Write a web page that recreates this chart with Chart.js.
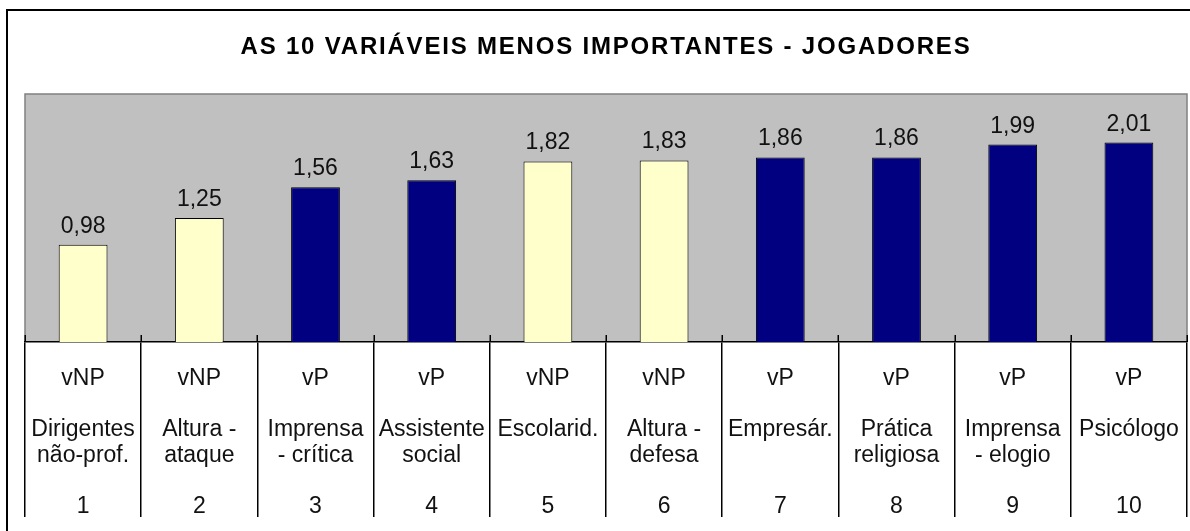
<!DOCTYPE html>
<html>
<head>
<meta charset="utf-8">
<script src="https://cdn.jsdelivr.net/npm/chart.js@4.4.1/dist/chart.umd.min.js"></script>
<style>
html, body { margin: 0; padding: 0; background: #fff; overflow: hidden; }
canvas { display: block; }
</style>
</head>
<body>
<canvas id="c" width="1190" height="531"></canvas>
<script>
// ---- Data ----
const titleText = 'AS 10 VARIÁVEIS MENOS IMPORTANTES - JOGADORES';
const groups = ['vNP', 'vNP', 'vP', 'vP', 'vNP', 'vNP', 'vP', 'vP', 'vP', 'vP'];
const categoryLines = [
  ['Dirigentes', 'não-prof.'],
  ['Altura -', 'ataque'],
  ['Imprensa', '- crítica'],
  ['Assistente', 'social'],
  ['Escolarid.', ''],
  ['Altura -', 'defesa'],
  ['Empresár.', ''],
  ['Prática', 'religiosa'],
  ['Imprensa', '- elogio'],
  ['Psicólogo', '']
];
const ranks = ['1', '2', '3', '4', '5', '6', '7', '8', '9', '10'];
const values = [0.98, 1.25, 1.56, 1.63, 1.82, 1.83, 1.86, 1.86, 1.99, 2.01];

// ---- Styles ----
const FONT = '"Liberation Sans", Arial, sans-serif';
const groupColor = { vP: '#000080', vNP: '#FFFFCC' };

const labels = categoryLines.map((c, i) => [groups[i], '', c[0], c[1], '', ranks[i]]);

const decorPlugin = {
  id: 'decor',
  afterLayout(chart) {
    const tb = chart.titleBlock;
    if (tb && !tb._spaced) {
      const orig = tb.draw;
      tb.draw = function () {
        const ctx = chart.ctx;
        const prev = ctx.letterSpacing;
        ctx.letterSpacing = '1.8px';
        orig.apply(this, arguments);
        ctx.letterSpacing = prev || '0px';
      };
      tb._spaced = true;
    }
  },
  beforeDraw(chart) {
    const { ctx, chartArea: a } = chart;
    ctx.save();
    ctx.fillStyle = '#fff';
    ctx.fillRect(0, 0, chart.width, chart.height);
    // outer frame
    ctx.strokeStyle = '#000';
    ctx.lineWidth = 2;
    ctx.strokeRect(7, 10, 1400, 800);
    // plot background
    ctx.fillStyle = '#C0C0C0';
    ctx.fillRect(a.left, a.top, a.right - a.left, a.bottom - a.top);
    ctx.strokeStyle = '#808080';
    ctx.lineWidth = 1.5;
    ctx.beginPath();
    ctx.moveTo(a.left, a.bottom);
    ctx.lineTo(a.left, a.top);
    ctx.lineTo(a.right, a.top);
    ctx.lineTo(a.right, a.bottom);
    ctx.stroke();
    ctx.restore();
  },
  afterDatasetsDraw(chart) {
    const { ctx } = chart;
    const meta = chart.getDatasetMeta(0);
    ctx.save();
    ctx.fillStyle = '#111';
    ctx.font = '23px ' + FONT;
    ctx.textAlign = 'center';
    ctx.textBaseline = 'alphabetic';
    meta.data.forEach((bar, i) => {
      const txt = values[i].toFixed(2).replace('.', ',');
      ctx.fillText(txt, bar.x, bar.y - 12);
    });
    ctx.restore();
  },
  afterDraw(chart) {
    const { ctx } = chart;
    const xs = chart.scales.x;
    const step = xs.width / labels.length;
    ctx.save();
    ctx.strokeStyle = '#000';
    ctx.lineWidth = 1.5;
    ctx.beginPath();
    for (let i = 0; i <= labels.length; i++) {
      const x = Math.round(xs.getPixelForValue(i) - step / 2) + 0.25;
      ctx.moveTo(x, xs.top - 7);
      ctx.lineTo(x, xs.top);
    }
    ctx.stroke();
    ctx.restore();
  }
};

new Chart(document.getElementById('c'), {
  type: 'bar',
  data: {
    labels: labels,
    datasets: [{
      data: values,
      backgroundColor: groups.map(g => groupColor[g]),
      borderColor: '#000',
      borderWidth: 1,
      barPercentage: 0.42,
      categoryPercentage: 1
    }]
  },
  options: {
    responsive: false,
    animation: false,
    devicePixelRatio: 1,
    layout: { padding: { left: 25, right: 3, top: 0, bottom: 0 } },
    plugins: {
      legend: { display: false },
      tooltip: { enabled: false },
      title: {
        display: true,
        text: titleText,
        color: '#000',
        font: { family: FONT, size: 24, weight: 'bold', lineHeight: 1.2 },
        padding: { top: 33, bottom: 32.2 }
      }
    },
    scales: {
      x: {
        grid: {
          display: true,
          drawOnChartArea: false,
          drawTicks: true,
          tickLength: 175,
          color: '#000',
          lineWidth: 1.5
        },
        border: { display: true, color: '#000', width: 1.5 },
        ticks: {
          color: '#111',
          font: { family: FONT, size: 23, lineHeight: '25.5px' },
          padding: -150.75,
          maxRotation: 0,
          minRotation: 0,
          autoSkip: false
        },
        afterFit(s) { s.height = 189; }
      },
      y: { display: false, min: 0, max: 2.5 }
    }
  },
  plugins: [decorPlugin]
});
</script>
</body>
</html>
